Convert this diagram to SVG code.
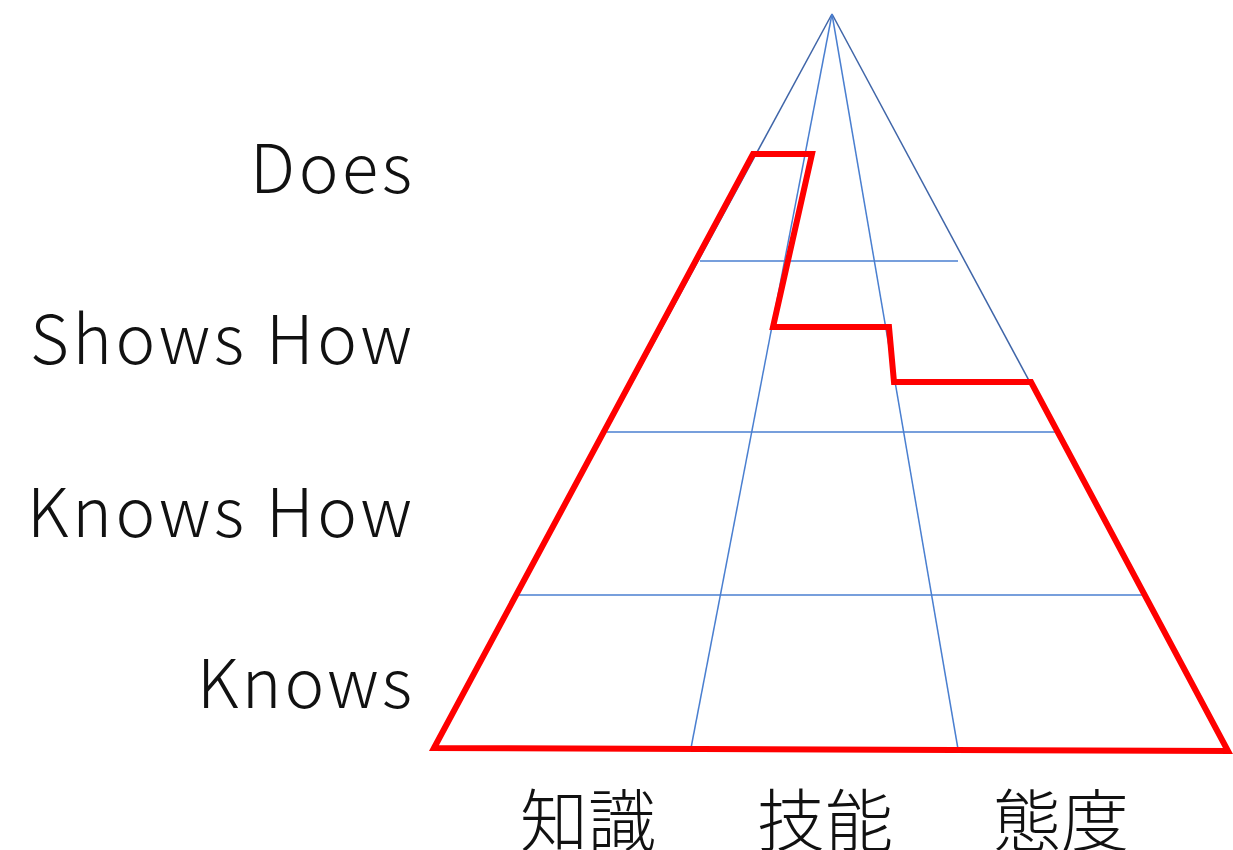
<svg xmlns="http://www.w3.org/2000/svg" width="1233" height="850" viewBox="0 0 1233 850">
<style>
.outer{stroke:#3F65A8;stroke-width:1.5;fill:none}
.inner{stroke:#4A7FD0;stroke-width:1.5;fill:none}
.red{stroke:#FF0000;stroke-width:6;fill:none;stroke-linejoin:miter}
.lbl{font-family:"Noto Sans CJK JP","Liberation Sans",sans-serif;font-size:67px;fill:#111;font-weight:300}
.cjk{font-family:"Noto Sans CJK JP",sans-serif;font-size:68px;fill:#111;font-weight:300}
</style>
<rect width="1233" height="850" fill="#fff"/>
<g id="grid">
<line class="outer" x1="832" y1="14" x2="434" y2="748"/>
<line class="outer" x1="832" y1="14" x2="1228" y2="751"/>
<line class="inner" x1="832" y1="14" x2="691" y2="748"/>
<line class="inner" x1="832" y1="14" x2="958" y2="749"/>
<line class="inner" x1="700" y1="261" x2="958" y2="261"/>
<line class="inner" x1="607" y1="432" x2="1058" y2="432"/>
<line class="inner" x1="516" y1="595" x2="1145" y2="595"/>
</g>
<g id="profile">
<polygon class="red" points="434,748 753,154 812,154 773,327 889,327 894,382 1031,382 1228,751"/>
</g>
<g id="level-labels">
<text class="lbl" x="412" y="193" text-anchor="end" textLength="162" lengthAdjust="spacing">Does</text>
<text class="lbl" x="412" y="364" text-anchor="end" textLength="382" lengthAdjust="spacing">Shows How</text>
<text class="lbl" x="412" y="537" text-anchor="end" textLength="385" lengthAdjust="spacing">Knows How</text>
<text class="lbl" x="412" y="708" text-anchor="end" textLength="215" lengthAdjust="spacing">Knows</text>
</g>
<g id="domain-labels">
<text class="cjk" x="588" y="846" text-anchor="middle">知識</text>
<text class="cjk" x="825" y="846" text-anchor="middle">技能</text>
<text class="cjk" x="1061" y="846" text-anchor="middle">態度</text>
</g>
</svg>
